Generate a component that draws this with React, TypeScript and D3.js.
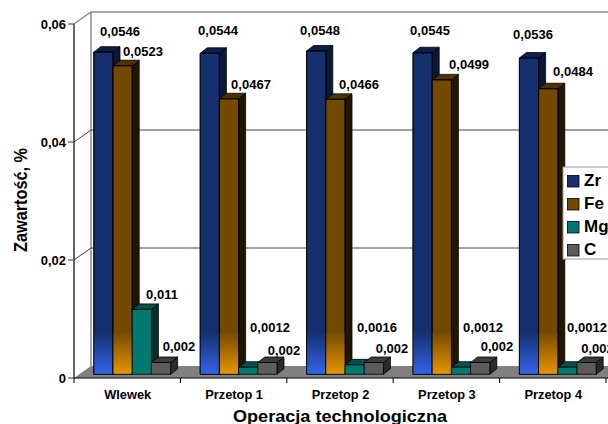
import React from "react";
import * as d3 from "d3";

const categories = ["Wlewek", "Przetop 1", "Przetop 2", "Przetop 3", "Przetop 4"];
const seriesNames = ["Zr", "Fe", "Mg", "C"];
const zr = [0.0546, 0.0544, 0.0548, 0.0545, 0.0536];
const fe = [0.0523, 0.0467, 0.0466, 0.0499, 0.0484];
const mg = [0.011, 0.0012, 0.0016, 0.0012, 0.0012];
const c = [0.002, 0.002, 0.002, 0.002, 0.002];
const zrLabels = ["0,0546", "0,0544", "0,0548", "0,0545", "0,0536"];
const feLabels = ["0,0523", "0,0467", "0,0466", "0,0499", "0,0484"];
const mgLabels = ["0,011", "0,0012", "0,0016", "0,0012", "0,0012"];
const cLabels = ["0,002", "0,002", "0,002", "0,002", "0,002"];
const yTicks = [0, 0.02, 0.04, 0.06];
const yTickLabels = ["0", "0,02", "0,04", "0,06"];

const seriesValues = [zr, fe, mg, c];
const seriesLabels = [zrLabels, feLabels, mgLabels, cLabels];

// Front colour, side colour, top colour and bottom glow of each series
const front = ["#16306f", "#744a00", "#007a70", "#5c5c5c"];
const side = ["#0a1838", "#231600", "#00302c", "#2a2a2a"];
const top = ["#0e1f4c", "#4e3200", "#00524c", "#3c3c3c"];
const glow = ["#3364e8", "#e89600", "#007a70", "#5c5c5c"];

// Hand-placed label centres (x, baseline y) per series and category
const labelX = [
  [120, 218, 320, 430, 533],
  [143, 251, 359, 469, 573],
  [162, 270, 377, 483, 587],
  [179, 284, 392, 497, 597.5],
];
const labelY = [
  [36, 35, 35, 35, 39],
  [56, 89, 89, 69, 76],
  [299, 332, 332, 332, 332],
  [351, 355, 353, 350.5, 353],
];

const width = 608;
const height = 424;
const axisX = 74;
const depthX = 17;
const depthY = 12;
const axisBottom = 378;
const axisTop = 24;
const barBase = 374.3;
const barDepthX = 7;
const barDepthY = 5.5;
const barW = 19.2;
const fadeH = 42;

const x = d3.scaleBand<string>().domain(categories).range([axisX, axisX + 106.4 * 5]);
const y = d3.scaleLinear().domain([0, 0.06]).range([axisBottom, axisTop]);
const barH = d3.scaleLinear().domain([0, 0.06]).range([0, axisBottom - axisTop]);

const bold = "'Liberation Sans', Arial, sans-serif";

export default function App() {
  const wallLeft = axisX + depthX;
  return (
    <svg
      width={width}
      height={height}
      style={{ position: "absolute", left: 0, top: 0, background: "#fff" }}
      fontFamily={bold}
      fontWeight="bold"
    >
      <defs>
        {seriesNames.map((s, i) => (
          <linearGradient key={s} id={`fade-${s}`} x1="0" x2="0" y1="0" y2="1">
            <stop offset="0" stopColor={front[i]} />
            <stop offset="1" stopColor={glow[i]} />
          </linearGradient>
        ))}
      </defs>

      {/* floor */}
      <polygon
        points={`${axisX},${axisBottom} ${wallLeft},${axisBottom - depthY} ${width},${axisBottom - depthY} ${width},${axisBottom}`}
        fill="#808080"
      />

      {/* back wall frame and gridlines */}
      <path
        d={`M${axisX},${y(0.06)}L${wallLeft},${y(0.06) - depthY}H${width}M${wallLeft},${y(0.06) - depthY}V${axisBottom - depthY}`}
        fill="none"
        stroke="#8c8c8c"
        strokeWidth={1.5}
      />
      {yTicks.slice(1, 3).map((t) => (
        <path
          key={t}
          d={`M${axisX},${y(t)}L${wallLeft},${y(t) - depthY}H${width}`}
          fill="none"
          stroke="#444"
          strokeWidth={1}
        />
      ))}

      {/* bars */}
      {categories.map((cat, ci) =>
        seriesNames.map((s, si) => {
          const x0 = (x(cat) as number) + 19.8 + si * barW;
          const h = barH(seriesValues[si][ci]);
          const yTop = barBase - h;
          const x1 = x0 + barW;
          const hasFade = si < 2;
          return (
            <g key={`${cat}-${s}`} stroke="#000" strokeWidth={0.8} strokeLinejoin="round">
              <polygon
                points={`${x1},${yTop} ${x1 + barDepthX},${yTop - barDepthY} ${x1 + barDepthX},${barBase - barDepthY} ${x1},${barBase}`}
                fill={side[si]}
              />
              <polygon
                points={`${x0},${yTop} ${x0 + barDepthX},${yTop - barDepthY} ${x1 + barDepthX},${yTop - barDepthY} ${x1},${yTop}`}
                fill={top[si]}
              />
              <rect x={x0} y={yTop} width={barW} height={h} fill={front[si]} />
              {hasFade && (
                <rect
                  x={x0}
                  y={barBase - fadeH}
                  width={barW}
                  height={fadeH}
                  fill={`url(#fade-${s})`}
                  stroke="none"
                />
              )}
              {hasFade && <rect x={x0} y={yTop} width={barW} height={h} fill="none" />}
            </g>
          );
        })
      )}

      {/* axes */}
      <path
        d={`M${axisX},${axisTop}V${axisBottom}H${width}`}
        fill="none"
        stroke="#000"
        strokeWidth={1.2}
      />
      {yTicks.map((t, i) => (
        <g key={t}>
          <line x1={axisX - 6} x2={axisX} y1={y(t)} y2={y(t)} stroke="#555" strokeWidth={1.2} />
          <text x={axisX - 8} y={y(t) + 4.5} textAnchor="end" fontSize={13} fill="#000">
            {yTickLabels[i]}
          </text>
        </g>
      ))}
      {categories.map((cat) => (
        <g key={cat}>
          <line
            x1={x(cat) as number}
            x2={x(cat) as number}
            y1={axisBottom}
            y2={axisBottom + 5}
            stroke="#000"
            strokeWidth={1}
          />
          <text
            x={(x(cat) as number) + x.bandwidth() / 2 + 0.5}
            y={399}
            textAnchor="middle"
            fontSize={12.8}
            fill="#000"
          >
            {cat}
          </text>
        </g>
      ))}
      <line
        x1={axisX + x.bandwidth() * 5}
        x2={axisX + x.bandwidth() * 5}
        y1={axisBottom}
        y2={axisBottom + 5}
        stroke="#000"
      />

      {/* data labels */}
      {seriesLabels.map((labels, si) =>
        labels.map((t, ci) => (
          <text
            key={`${si}-${ci}`}
            x={labelX[si][ci]}
            y={labelY[si][ci]}
            textAnchor="middle"
            fontSize={13}
            fill="#000"
          >
            {t}
          </text>
        ))
      )}

      {/* axis titles */}
      <text
        x={233}
        y={421.5}
        fontSize={16}
        textLength={214}
        lengthAdjust="spacingAndGlyphs"
        fill="#000"
      >
        Operacja technologiczna
      </text>
      <text
        transform="translate(27,252) rotate(-90)"
        fontSize={18}
        textLength={104}
        lengthAdjust="spacingAndGlyphs"
        fill="#000"
      >
        Zawartość, %
      </text>

      {/* legend */}
      <rect x={563} y={167} width={50} height={92} fill="#fff" stroke="#999" strokeWidth={1} />
      {seriesNames.map((s, i) => (
        <g key={s}>
          <rect x={567.5} y={175.5 + i * 23} width={11.5} height={11.5} fill={front[i]} stroke="#000" strokeWidth={0.8} />
          <text x={584} y={186 + i * 23} fontSize={17} fill="#000">
            {s}
          </text>
        </g>
      ))}
    </svg>
  );
}
